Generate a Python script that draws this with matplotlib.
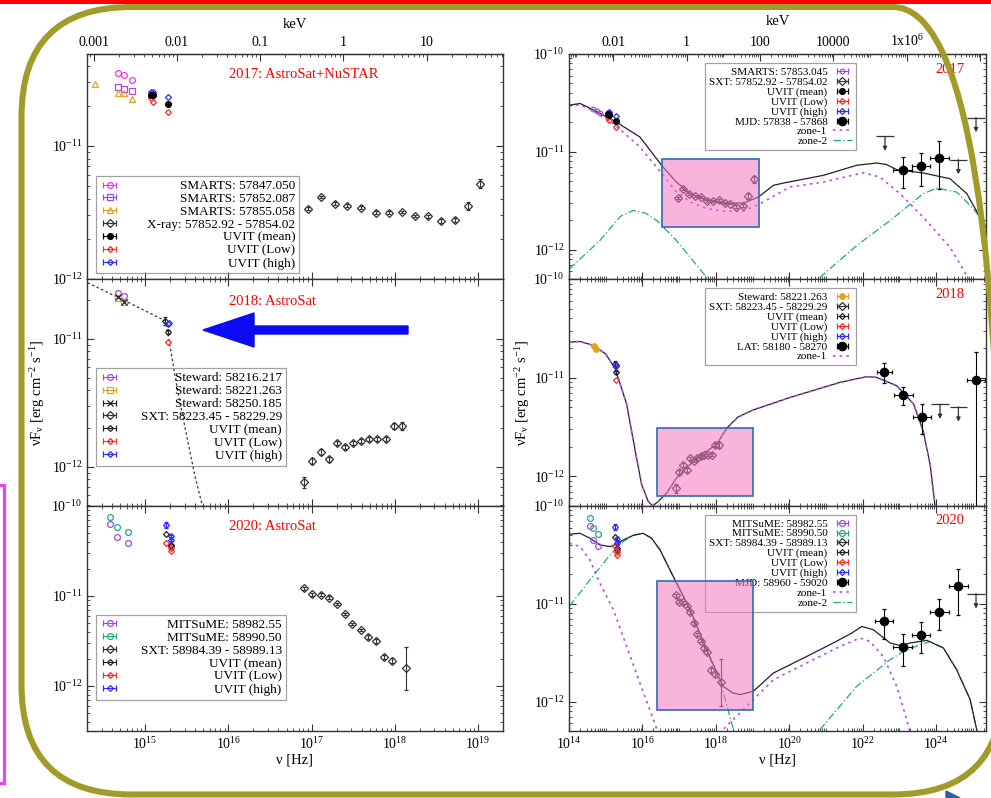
import numpy as np
import matplotlib
matplotlib.use('Agg')
import matplotlib.pyplot as plt
from matplotlib.patches import FancyBboxPatch, Rectangle, FancyArrow, Polygon
from matplotlib.lines import Line2D
from matplotlib.ticker import LogLocator, NullFormatter, FuncFormatter

plt.rcParams['font.family'] = ['Liberation Serif', 'DejaVu Serif']
plt.rcParams['mathtext.fontset'] = 'custom'
plt.rcParams['mathtext.rm'] = 'Liberation Serif'
plt.rcParams['mathtext.it'] = 'Liberation Serif:italic'
plt.rcParams['mathtext.default'] = 'regular'
plt.rcParams['axes.unicode_minus'] = False

# keV <-> Hz used on the top axes
KEV_LEFT = 2.418e17
KEV_RIGHT = 1.6e17

# ---------------- 2017 ----------------
smarts_nu = [4.70e14, 5.60e14, 6.98e14]
smarts_847 = [3.52e-11, 3.43e-11, 3.10e-11]
smarts_852 = [2.76e-11, 2.67e-11, 2.58e-11]
smarts_855_nu = [2.5e14, 4.70e14, 5.60e14, 6.98e14]
smarts_855 = [2.92e-11, 2.50e-11, 2.50e-11, 2.25e-11]
smarts_853_nu = [4.6e14, 5.7e14, 7.0e14]
smarts_853 = [2.71e-11, 2.62e-11, 2.52e-11]

lg_sxt17_nu = [16.96, 17.11, 17.28, 17.43, 17.59, 17.77, 17.93, 18.09, 18.24, 18.40, 18.56, 18.73, 18.88, 19.03]
lg_sxt17_f = [-11.471, -11.383, -11.434, -11.449, -11.464, -11.501, -11.501, -11.496, -11.526, -11.529,
              -11.563, -11.554, -11.451, -11.283]
sxt17_err = [0.01, 0.01, 0.01, 0.01, 0.01, 0.01, 0.01, 0.01, 0.01, 0.01, 0.015, 0.015, 0.03, 0.035]

uvit17_nu = [1.16e15, 1.24e15, 1.89e15]
uvit17_mean = [2.43e-11, 2.39e-11, 2.05e-11]
uvit17_low = [2.29e-11, 2.12e-11, 1.79e-11]
uvit17_high = [2.52e-11, 2.56e-11, 2.32e-11]

lg_lat17_nu = [23.09, 23.59, 24.09]
lg_lat17_f = [-11.183, -11.149, -11.064]
lg_lat17_hi = [-11.053, -11.012, -10.889]
lg_lat17_lo = [-11.367, -11.354, -11.377]
lat17_dnu = [0.25, 0.25, 0.25]
lg_ul17_nu = [22.61, 24.61, 25.09]
lg_ul17_f = [-10.841, -11.08, -10.65]

lg_tot17_nu = [14.01, 14.30, 14.66, 15.28, 15.93, 16.54, 16.90, 17.30, 17.75, 18.20, 18.75, 19.16, 19.57,
               19.84, 20.93, 21.84, 22.38, 22.65, 22.93, 23.65, 24.38, 24.84, 25.35]
lg_tot17_f = [-10.523, -10.506, -10.57, -10.694, -10.848, -11.146, -11.30, -11.429, -11.49, -11.525, -11.525,
              -11.463, -11.343, -11.32, -11.241, -11.138, -11.115, -11.13, -11.183, -11.217, -11.275, -11.429,
              -11.771]
lg_z1_17_nu = [14.01, 14.30, 14.66, 15.21, 15.93, 16.57, 16.90, 17.30, 17.75, 18.20, 18.75, 19.20, 20.02,
               20.93, 22.02, 22.47, 23.02, 23.65, 24.38, 24.84, 25.10]
lg_z1_17_f = [-10.53, -10.52, -10.58, -10.711, -10.95, -11.241, -11.40, -11.514, -11.58, -11.607, -11.607,
              -11.532, -11.36, -11.31, -11.214, -11.258, -11.429, -11.668, -11.976, -12.267, -12.45]
lg_z2_17_nu = [14.01, 14.84, 15.40, 15.75, 16.10, 16.39, 16.93, 17.75, 17.90, np.nan,
               20.60, 20.84, 21.84, 22.75, 23.65, 24.02, 24.56, 25.02, 25.35]
lg_z2_17_f = [-12.198, -11.908, -11.66, -11.60, -11.63, -11.703, -11.908, -12.284, -12.36, np.nan,
              -12.40, -12.284, -11.959, -11.703, -11.429, -11.371, -11.412, -11.582, -11.754]
lg_box17 = [16.54, 19.17, -11.77, -11.07]

# ---------------- 2018 ----------------
steward_nu = [4.70e14, 5.60e14]
steward_216 = [2.28e-11, 2.17e-11]
steward_221 = [2.09e-11, 1.95e-11]
steward_250 = [2.12e-11, 1.95e-11]

lg_sxt18_nu = [16.91, 17.01, 17.11, 17.21, 17.30, 17.40, 17.50, 17.60, 17.69, 17.79, 17.89, 17.99, 18.09]
lg_sxt18_f = [-12.120, -11.953, -11.883, -11.940, -11.815, -11.844, -11.815, -11.797, -11.784, -11.784,
              -11.781, -11.680, -11.680]
sxt18_err = [0.045, 0.02, 0.02, 0.02, 0.015, 0.015, 0.015, 0.015, 0.015, 0.015, 0.015, 0.02, 0.03]

uvit18_mean_nu = [1.74e15, 1.89e15]
uvit18_mean = [1.39e-11, 1.13e-11]
uvit18_mean_err = [0.03, 0.015]
uvit18_high_nu = [1.92e15, 1.90e15]
uvit18_high = [1.34e-11, 1.30e-11]
uvit18_low_nu = [1.89e15]
uvit18_low = [9.5e-12]

lg_pl18_nu = [14.307, 14.660, 15.240, 15.280, 15.381, 15.501, 15.600, 15.681, 15.72]
lg_pl18_f = [-10.560, -10.670, -10.857, -10.982, -11.373, -11.763, -12.076, -12.284, -12.40]

lg_lat18_nu = [22.59, 23.11, 23.61, 25.09]
lg_lat18_f = [-10.946, -11.173, -11.398, -11.023]
lg_lat18_hi = [-10.854, -11.092, -11.268, -10.735]
lg_lat18_lo = [-11.058, -11.276, -11.574, -12.40]
lat18_dnu = [0.2, 0.25, 0.25, 0.25]
lg_ul18_nu = [24.11, 24.61]
lg_ul18_f = [-11.268, -11.296]

lg_mod18_nu = [14.01, 14.30, 14.66, 15.00, 15.26, 15.57, 15.84, 15.98, 16.16, 16.28, 16.43, 16.66, 16.93,
               17.48, 18.02, 18.31, 18.60, 19.00, 20.02, 21.38, 22.11, 22.38, 22.93, 23.39, 23.65, 23.84,
               23.97, 24.05]
lg_mod18_f = [-10.64, -10.633, -10.673, -10.76, -10.911, -11.268, -11.813, -12.085, -12.255, -12.30, -12.255,
              -12.17, -12.017, -11.813, -11.677, -11.507, -11.40, -11.33, -11.201, -11.048, -10.99, -10.997,
              -11.082, -11.268, -11.541, -11.881, -12.29, -12.60]
lg_box18 = [16.39, 19.0, -12.204, -11.507]

# ---------------- 2020 ----------------
mitsume_nu = [3.80e14, 4.61e14, 6.25e14]
mitsume_82 = [6.27e-11, 4.49e-11, 3.91e-11]
mitsume_90 = [7.55e-11, 5.89e-11, 5.14e-11]

lg_sxt20_nu = [16.91, 17.01, 17.11, 17.21, 17.30, 17.40, 17.49, 17.59, 17.68, 17.77, 17.87, 17.97, 18.13]
lg_sxt20_f = [-10.914, -10.981, -10.985, -11.019, -11.089, -11.200, -11.311, -11.378, -11.456, -11.497,
              -11.678, -11.719, -11.804]
sxt20_err = [0.015, 0.015, 0.015, 0.015, 0.015, 0.015, 0.015, 0.015, 0.02, 0.02, 0.025, 0.03, 0.24]

uvit20_nu = [1.77e15, 2.05e15, 2.05e15]
uvit20_mean = [4.84e-11, 3.69e-11, 3.56e-11]
uvit20_low = [3.91e-11, 3.39e-11, 3.18e-11]
uvit20_high = [6.15e-11, 4.64e-11, 4.19e-11]

lg_lat20_nu = [22.59, 23.09, 23.59, 24.09, 24.61]
lg_lat20_f = [-11.18, -11.446, -11.316, -11.085, -10.816]
lg_lat20_hi = [-11.051, -11.309, -11.187, -10.952, -10.643]
lg_lat20_lo = [-11.36, -11.64, -11.503, -11.272, -11.112]
lat20_dnu = [0.25, 0.25, 0.25, 0.25, 0.25]
lg_ul20_nu = [25.09]
lg_ul20_f = [-10.898]

lg_tot20_nu = [14.01, 14.30, 14.57, 14.84, 15.12, 15.30, 15.48, 15.75, 16.02, 16.25, 16.48, 16.84, 17.30,
               17.75, 18.20, 18.45, 18.66, 19.02, 19.57, 20.48, 21.20, 21.70, 21.98, 22.29, 22.75, 23.05,
               23.29, 23.75, 24.20, 24.56, 24.93, 25.11, 25.20]
lg_tot20_f = [-10.289, -10.279, -10.33, -10.398, -10.415, -10.39, -10.347, -10.30, -10.279, -10.33, -10.449,
              -10.721, -11.061, -11.469, -11.844, -11.91, -11.929, -11.895, -11.708, -11.538, -11.401, -11.30,
              -11.232, -11.265, -11.401, -11.43, -11.401, -11.374, -11.452, -11.673, -11.98, -12.29, -12.50]
lg_z1_20_nu = [14.01, 14.30, 14.57, 14.84, 15.21, 15.57, 15.93, 16.30, 16.45, np.nan,
               18.05, 18.20, 18.75, 19.57, 20.48, 21.38, 21.93, 22.20, 22.56, 22.93, 23.20, 23.35]
lg_z1_20_f = [-10.381, -10.415, -10.551, -10.789, -11.061, -11.436, -11.81, -12.184, -12.35, np.nan,
              -12.40, -12.286, -12.082, -11.776, -11.605, -11.436, -11.35, -11.384, -11.538, -11.844,
              -12.184, -12.40]
lg_z2_20_nu = [14.01, 14.57, 15.12, 15.48, 15.75, 16.02, 16.25, 16.48, 16.84, 17.30, 17.75, 18.20, 18.48,
               18.60, np.nan, 20.60, 20.84, 21.84, 22.75, 23.20, 23.84, 24.20, 24.56, 24.93, 25.11, 25.20]
lg_z2_20_f = [-11.027, -10.755, -10.50, -10.364, -10.30, -10.279, -10.33, -10.449, -10.721, -11.061, -11.469,
              -11.90, -12.286, -12.40, np.nan, -12.40, -12.286, -11.844, -11.571, -11.469, -11.384, -11.452,
              -11.673, -11.98, -12.29, -12.50]
lg_box20 = [16.39, 19.0, -12.089, -10.772]

# ---------------- styles ----------------
C_MAG = '#ee38ee'
C_PUR = '#a24bdf'
C_ORA = '#e6a021'
C_TEAL = '#22a882'
C_RED = '#ff2a2a'
C_BLUE = '#2a2aff'
C_K = '#222222'

ST = {
    'mag_o': dict(m='o', c=C_MAG, ms=4.2),
    'pur_s': dict(m='s', c=C_PUR, ms=4.2),
    'ora_t': dict(m='^', c=C_ORA, ms=4.2),
    'pur_o': dict(m='o', c=C_PUR, ms=4.2),
    'pur_os': dict(m='o', c=C_PUR, ms=3.3),
    'ora_s': dict(m='s', c=C_ORA, ms=4.2),
    'ora_f': dict(m='o', c=C_ORA, ms=4.0, fc=C_ORA),
    'teal_o': dict(m='o', c=C_TEAL, ms=4.2),
    'k_x': dict(m='x', c=C_K, ms=4.0),
    'sxt': dict(m='D', c='#333333', ms=4.2),
    'mean_f': dict(m='o', c='black', ms=4.2, fc='black'),
    'mean_d': dict(m='D', c=C_K, ms=3.0),
    'low': dict(m='D', c=C_RED, ms=3.0),
    'high': dict(m='D', c=C_BLUE, ms=3.0),
    'lat': dict(m='o', c='black', ms=6.0, fc='black'),
}


def dex_err(f, d):
    f = np.asarray(f)
    d = np.asarray(d)
    return [f - f * 10 ** (-d), f * 10 ** d - f]


def pts(ax, x, y, key, yerr=None, xerr=None):
    s = ST[key]
    ax.errorbar(x, y, yerr=yerr, xerr=xerr, fmt=s['m'], color=s['c'], mfc=s.get('fc', 'none'),
                mec=s['c'], ms=s['ms'], mew=0.9, elinewidth=0.8, capsize=1.5, zorder=3)


def proxy(ax, key):
    s = ST[key]
    return ax.errorbar([np.nan], [np.nan], xerr=[1.0], fmt=s['m'], color=s['c'], mfc=s.get('fc', 'none'),
                       mec=s['c'], ms=s['ms'], mew=0.9, elinewidth=0.8, capsize=2)


def lat(ax, lnu, lf, lhi, llo, dnu):
    nu = 10 ** np.array(lnu)
    f = 10 ** np.array(lf)
    yerr = [f - 10 ** np.array(llo), 10 ** np.array(lhi) - f]
    xerr = dex_err(nu, dnu)
    pts(ax, nu, f, 'lat', yerr=yerr, xerr=xerr)


def uplims(ax, lnu, lf):
    nu = 10 ** np.array(lnu)
    f = 10 ** np.array(lf)
    ax.errorbar(nu, f, xerr=dex_err(nu, 0.24), fmt='none', ecolor='#333333', elinewidth=0.9)
    for n, v in zip(nu, f):
        ax.annotate('', xy=(n, v * 10 ** -0.15), xytext=(n, v),
                    arrowprops=dict(arrowstyle='-|>', color='#333333', lw=0.9, mutation_scale=6,
                                    shrinkA=0, shrinkB=0))


def curve(ax, lnu, lf, kind):
    x = 10 ** np.array(lnu, dtype=float)
    y = 10 ** np.array(lf, dtype=float)
    if kind == 'tot':
        ax.plot(x, y, color=C_K, lw=0.9, zorder=2)
    elif kind == 'z1':
        ax.plot(x, y, color='#b050ee', lw=1.2, ls=(0, (1.5, 2.5)), zorder=2)
    elif kind == 'z2':
        ax.plot(x, y, color=C_TEAL, lw=0.9, ls=(0, (6, 2, 1, 2)), zorder=2)
    else:
        ax.plot(x, y, color='#333333', lw=0.9, ls=(0, (2, 2)), zorder=2)


def pinkbox(ax, b):
    x0, x1, y0, y1 = [10 ** v for v in b]
    ax.add_patch(Rectangle((x0, y0), x1 - x0, y1 - y0, facecolor='#f477bf', alpha=0.55,
                           edgecolor='none', zorder=6))
    ax.add_patch(Rectangle((x0, y0), x1 - x0, y1 - y0, fill=False, edgecolor='#2d6cb5',
                           lw=1.2, zorder=6))


def style(ax, base, minor_subs):
    ax.set_xscale('log')
    ax.set_yscale('log')
    ax.xaxis.set_major_locator(LogLocator(base=base, numticks=40))
    ax.xaxis.set_minor_locator(LogLocator(base=10, subs=minor_subs, numticks=300))
    ax.xaxis.set_minor_formatter(NullFormatter())
    ax.yaxis.set_major_locator(LogLocator(base=10, numticks=40))
    ax.yaxis.set_minor_locator(LogLocator(base=10, subs=np.arange(2, 10), numticks=300))
    ax.yaxis.set_minor_formatter(NullFormatter())
    ax.tick_params(which='both', direction='in', top=True, right=True, color='#333333',
                   labelcolor='black', labelsize=10)
    ax.tick_params(which='major', length=5, width=0.8)
    ax.tick_params(which='minor', length=2.5, width=0.6)
    for sp in ax.spines.values():
        sp.set_color('#333333')
        sp.set_linewidth(1.0)


def top_kev(ax, conv, base, fmt):
    sec = ax.secondary_xaxis('top', functions=(lambda v: np.asarray(v) / conv,
                                               lambda e: np.asarray(e) * conv))
    sec.xaxis.set_major_locator(LogLocator(base=base, numticks=40))
    sec.xaxis.set_minor_locator(LogLocator(base=10, subs=np.arange(1, 10), numticks=300))
    sec.xaxis.set_minor_formatter(NullFormatter())
    sec.xaxis.set_major_formatter(FuncFormatter(fmt))
    sec.tick_params(which='both', direction='in', color='#333333', labelsize=10)
    sec.tick_params(which='major', length=5, width=0.8)
    sec.tick_params(which='minor', length=2.5, width=0.6)
    sec.spines['top'].set_color('#333333')
    sec.set_xlabel('keV', fontsize=10.5, labelpad=6)
    ax.tick_params(which='both', top=False)


def kev_right_fmt(v, p):
    e = np.log10(v)
    if abs(e - 6) < 0.01:
        return '1x10$^{6}$'
    if e > 5:
        return ''
    return '%g' % v


def leg_left(ax, hs, labels, anchor, pad):
    leg = ax.legend(hs, labels, loc='upper left', bbox_to_anchor=anchor, fontsize=9.5, fancybox=False,
                    edgecolor='#8a8a8a', facecolor='none', borderpad=0.3,
                    labelspacing=0.05, handlelength=1.5, handletextpad=pad, numpoints=1,
                    borderaxespad=0)
    leg.get_frame().set_linewidth(0.9)
    return leg


def leg_right(ax, hs, labels, anchor):
    leg = ax.legend(hs, labels, loc='upper right', bbox_to_anchor=anchor, fontsize=8, fancybox=False,
                    edgecolor='#8a8a8a', facecolor='none', markerfirst=False, borderpad=0.35,
                    labelspacing=0.0, handlelength=1.7, handletextpad=0.5, numpoints=1,
                    borderaxespad=0)
    leg.get_frame().set_linewidth(0.9)
    leg.set_zorder(5)
    return leg


def zone_line(kind):
    if kind == 'z1':
        return Line2D([], [], color='#b050ee', lw=1.2, ls=(0, (1.5, 2.5)))
    return Line2D([], [], color=C_TEAL, lw=0.9, ls=(0, (6, 2, 1, 2)))


# ---------------- figure ----------------
fig = plt.figure(figsize=(9.91, 7.98), dpi=100)


def rect(x0, y0, x1, y1):
    return [x0 / 991, 1 - y1 / 798, (x1 - x0) / 991, (y1 - y0) / 798]


rows = [(54, 279), (279, 506), (506, 731)]
axL = [fig.add_axes(rect(87, a, 503, b)) for a, b in rows]
axR = [fig.add_axes(rect(569, a, 986, b)) for a, b in rows]

left_ylims = [(1e-12, 10 ** -10.31), (10 ** -12.305, 10 ** -10.531), (10 ** -12.5, 1e-10)]
for ax, yl in zip(axL, left_ylims):
    style(ax, 10, np.arange(2, 10))
    ax.set_xlim(2e14, 2e19)
    ax.set_ylim(*yl)
for ax in axR:
    style(ax, 100, np.arange(1, 10))
    ax.set_xlim(1e14, 2.3e25)
    ax.set_ylim(5e-13, 1e-10)
for ax in axL[:2] + axR[:2]:
    ax.tick_params(labelbottom=False)

top_kev(axL[0], KEV_LEFT, 10, lambda v, p: '%g' % v)
top_kev(axR[0], KEV_RIGHT, 100, kev_right_fmt)

for ax in (axL[2], axR[2]):
    ax.set_xlabel('ν [Hz]', fontsize=10.5, labelpad=1)
axL[1].set_ylabel('νF$_{ν}$ [erg cm$^{-2}$ s$^{-1}$]', fontsize=10.5, labelpad=3)
axR[1].set_ylabel('νF$_{ν}$ [erg cm$^{-2}$ s$^{-1}$]', fontsize=10.5, labelpad=1)

sxt17_nu, sxt17_f = 10 ** np.array(lg_sxt17_nu), 10 ** np.array(lg_sxt17_f)
sxt18_nu, sxt18_f = 10 ** np.array(lg_sxt18_nu), 10 ** np.array(lg_sxt18_f)
sxt20_nu, sxt20_f = 10 ** np.array(lg_sxt20_nu), 10 ** np.array(lg_sxt20_f)

# ---- left 2017
ax = axL[0]
pts(ax, smarts_nu, smarts_847, 'mag_o')
pts(ax, smarts_nu, smarts_852, 'pur_s')
pts(ax, smarts_855_nu, smarts_855, 'ora_t')
pts(ax, sxt17_nu, sxt17_f, 'sxt', yerr=dex_err(sxt17_f, sxt17_err))
pts(ax, uvit17_nu, uvit17_low, 'low')
pts(ax, uvit17_nu, uvit17_high, 'high')
pts(ax, uvit17_nu, uvit17_mean, 'mean_f')
ax.text(0.341, 0.911, '2017: AstroSat+NuSTAR', transform=ax.transAxes, color='red', fontsize=10.5,
        va='center', ha='left')
keys = ['mag_o', 'pur_s', 'ora_t', 'sxt', 'mean_f', 'low', 'high']
labs = ['SMARTS: 57847.050', 'SMARTS: 57852.087', 'SMARTS: 57855.058', 'X-ray: 57852.92 - 57854.02',
        'UVIT (mean)', 'UVIT (Low)', 'UVIT (high)']
legs_left = [leg_left(ax, [proxy(ax, k) for k in keys], labs, (0.0216, 0.458), 2.1)]

# ---- left 2018
ax = axL[1]
curve(ax, lg_pl18_nu, lg_pl18_f, 'pl')
pts(ax, steward_nu, steward_216, 'pur_o')
pts(ax, steward_nu, steward_221, 'ora_s')
pts(ax, steward_nu, steward_250, 'k_x')
pts(ax, sxt18_nu, sxt18_f, 'sxt', yerr=dex_err(sxt18_f, sxt18_err))
pts(ax, uvit18_mean_nu, uvit18_mean, 'mean_d', yerr=dex_err(uvit18_mean, uvit18_mean_err))
pts(ax, uvit18_low_nu, uvit18_low, 'low')
pts(ax, uvit18_high_nu, uvit18_high, 'high')
ax.text(0.341, 0.899, '2018: AstroSat', transform=ax.transAxes, color='red', fontsize=10.5,
        va='center', ha='left')
keys = ['pur_o', 'ora_s', 'k_x', 'sxt', 'mean_d', 'low', 'high']
labs = ['Steward: 58216.217', 'Steward: 58221.263', 'Steward: 58250.185', 'SXT: 58223.45 - 58229.29',
        'UVIT (mean)', 'UVIT (Low)', 'UVIT (high)']
legs_left.append(leg_left(ax, [proxy(ax, k) for k in keys], labs, (0.021, 0.607), 1.6))

# ---- left 2020
ax = axL[2]
pts(ax, mitsume_nu, mitsume_82, 'pur_o')
pts(ax, mitsume_nu, mitsume_90, 'teal_o')
pts(ax, sxt20_nu, sxt20_f, 'sxt', yerr=dex_err(sxt20_f, sxt20_err))
pts(ax, uvit20_nu, uvit20_mean, 'mean_d')
pts(ax, uvit20_nu, uvit20_low, 'low')
pts(ax, uvit20_nu, uvit20_high, 'high', yerr=dex_err(uvit20_high, [0.03, 0.015, 0.015]))
ax.text(0.341, 0.911, '2020: AstroSat', transform=ax.transAxes, color='red', fontsize=10.5,
        va='center', ha='left')
keys = ['pur_o', 'teal_o', 'sxt', 'mean_d', 'low', 'high']
labs = ['MITSuME: 58982.55', 'MITSuME: 58990.50', 'SXT: 58984.39 - 58989.13', 'UVIT (mean)',
        'UVIT (Low)', 'UVIT (high)']
legs_left.append(leg_left(ax, [proxy(ax, k) for k in keys], labs, (0.021, 0.516), 1.6))

# ---- right 2017
ax = axR[0]
curve(ax, lg_z2_17_nu, lg_z2_17_f, 'z2')
curve(ax, lg_z1_17_nu, lg_z1_17_f, 'z1')
curve(ax, lg_tot17_nu, lg_tot17_f, 'tot')
pts(ax, smarts_853_nu, smarts_853, 'pur_os')
pts(ax, sxt17_nu, sxt17_f, 'sxt', yerr=dex_err(sxt17_f, sxt17_err))
pts(ax, uvit17_nu, uvit17_low, 'low')
pts(ax, uvit17_nu, uvit17_high, 'high')
pts(ax, uvit17_nu, uvit17_mean, 'mean_f')
lat(ax, lg_lat17_nu, lg_lat17_f, lg_lat17_hi, lg_lat17_lo, lat17_dnu)
uplims(ax, lg_ul17_nu, lg_ul17_f)
pinkbox(ax, lg_box17)
ax.text(0.879, 0.933, '2017', transform=ax.transAxes, color='red', fontsize=10.5, va='center')
keys = ['pur_os', 'sxt', 'mean_f', 'low', 'high', 'lat']
labs = ['SMARTS: 57853.045', 'SXT: 57852.92 - 57854.02', 'UVIT (mean)', 'UVIT (Low)', 'UVIT (high)',
        'MJD: 57838 - 57868', 'zone-1', 'zone-2']
leg_right(ax, [proxy(ax, k) for k in keys] + [zone_line('z1'), zone_line('z2')], labs, (0.6875, 0.9587))

# ---- right 2018
ax = axR[1]
curve(ax, lg_mod18_nu, lg_mod18_f, 'tot')
curve(ax, lg_mod18_nu, lg_mod18_f, 'z1')
pts(ax, steward_nu, steward_221, 'ora_f')
pts(ax, sxt18_nu, sxt18_f, 'sxt', yerr=dex_err(sxt18_f, sxt18_err))
pts(ax, uvit18_mean_nu, uvit18_mean, 'mean_d', yerr=dex_err(uvit18_mean, uvit18_mean_err))
pts(ax, uvit18_low_nu, uvit18_low, 'low')
pts(ax, uvit18_high_nu, uvit18_high, 'high')
lat(ax, lg_lat18_nu, lg_lat18_f, lg_lat18_hi, lg_lat18_lo, lat18_dnu)
uplims(ax, lg_ul18_nu, lg_ul18_f)
pinkbox(ax, lg_box18)
ax.text(0.879, 0.933, '2018', transform=ax.transAxes, color='red', fontsize=10.5, va='center')
keys = ['ora_f', 'sxt', 'mean_d', 'low', 'high', 'lat']
labs = ['Steward: 58221.263', 'SXT: 58223.45 - 58229.29', 'UVIT (mean)', 'UVIT (Low)', 'UVIT (high)',
        'LAT: 58180 - 58270', 'zone-1']
leg_right(ax, [proxy(ax, k) for k in keys] + [zone_line('z1')], labs, (0.6875, 0.959))

# ---- right 2020
ax = axR[2]
curve(ax, lg_z2_20_nu, lg_z2_20_f, 'z2')
curve(ax, lg_z1_20_nu, lg_z1_20_f, 'z1')
curve(ax, lg_tot20_nu, lg_tot20_f, 'tot')
pts(ax, mitsume_nu, mitsume_82, 'pur_o')
pts(ax, mitsume_nu, mitsume_90, 'teal_o')
pts(ax, sxt20_nu, sxt20_f, 'sxt', yerr=dex_err(sxt20_f, sxt20_err))
pts(ax, uvit20_nu, uvit20_mean, 'mean_d')
pts(ax, uvit20_nu, uvit20_low, 'low')
pts(ax, uvit20_nu, uvit20_high, 'high', yerr=dex_err(uvit20_high, [0.03, 0.015, 0.015]))
lat(ax, lg_lat20_nu, lg_lat20_f, lg_lat20_hi, lg_lat20_lo, lat20_dnu)
uplims(ax, lg_ul20_nu, lg_ul20_f)
pinkbox(ax, lg_box20)
ax.text(0.879, 0.935, '2020', transform=ax.transAxes, color='red', fontsize=10.5, va='center')
keys = ['pur_o', 'teal_o', 'sxt', 'mean_d', 'low', 'high', 'lat']
labs = ['MITSuME: 58982.55', 'MITSuME: 58990.50', 'SXT: 58984.39 - 58989.13', 'UVIT (mean)',
        'UVIT (Low)', 'UVIT (high)', 'MJD: 58960 - 59020', 'zone-1', 'zone-2']
leg_right(ax, [proxy(ax, k) for k in keys] + [zone_line('z1'), zone_line('z2')], labs, (0.6875, 0.96))

# right-align the label texts of the left legends (handles stay on the left)
renderer = fig.canvas.get_renderer()
for leg in legs_left:
    widths = [t.get_window_extent(renderer).width for t in leg.get_texts()]
    wmax = max(widths)
    items = [b for col in leg._legend_handle_box.get_children() for b in col.get_children()]
    for box, w in zip(items, widths):
        box.sep += (wmax - w) * 72.0 / fig.dpi

# ---------------- slide decorations (pixel positions) ----------------
T = fig.dpi_scale_trans


def px(x, y):
    return (x / 100.0, (798 - y) / 100.0)


fig.add_artist(FancyBboxPatch(px(21.5, 794.5), (1003 - 21.5) / 100, (794.5 - 7) / 100,
                              boxstyle='round,pad=0,rounding_size=1.1', transform=T, fill=False,
                              edgecolor='#a19c29', lw=4.4, zorder=8))
fig.add_artist(Rectangle(px(0, 4), 9.91, 0.04, transform=T, facecolor='#ff0000', lw=0, zorder=9))
fig.add_artist(Rectangle(px(-20, 783), 0.24, (783 - 485) / 100, transform=T, fill=False,
                         edgecolor='#e543f7', lw=2.3, zorder=8))
ax0, ay0 = px(408, 330)
fig.add_artist(FancyArrow(ax0, ay0, -(408 - 203) / 100, 0, width=0.08, head_width=0.34, head_length=0.51,
                          length_includes_head=True, color='#0c0cf2', transform=T, zorder=8))
fig.add_artist(Polygon([px(946, 798), px(946, 791), px(960, 798)], closed=True, color='#2f5fa0',
                       transform=T, zorder=8))

fig.savefig('out.png', dpi=100)
